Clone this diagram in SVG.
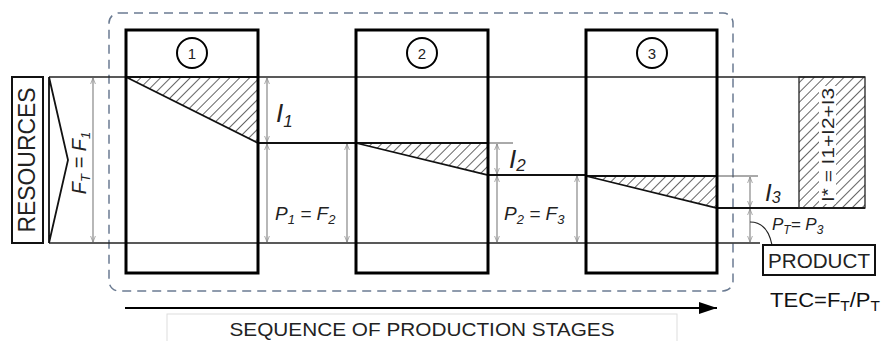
<svg xmlns="http://www.w3.org/2000/svg" width="882" height="341" viewBox="0 0 882 341">
<style>
.stage{fill:none;stroke:#000;stroke-width:3}
.flow{fill:none;stroke:#222;stroke-width:1.3}
.level{fill:none;stroke:#111;stroke-width:2}
.ext{fill:none;stroke:#555;stroke-width:1}
.dim{fill:none;stroke:#888;stroke-width:1.2;marker-start:url(#tick);marker-end:url(#tick)}
.hyp{fill:url(#hatch);stroke:#111;stroke-width:1.8}
.lbl{font-family:"Liberation Sans",Arial,sans-serif;fill:#222}
.it{font-style:italic}
.box{fill:#fff;stroke:#111;stroke-width:2}
</style>
<defs>
<pattern id="hatch" patternUnits="userSpaceOnUse" width="7" height="7" patternTransform="rotate(45)">
<line x1="0" y1="0" x2="0" y2="7" stroke="#111" stroke-width="1.3"/>
</pattern>
<marker id="tick" viewBox="0 0 10 10" refX="10" refY="5" markerWidth="6" markerHeight="6" orient="auto-start-reverse" markerUnits="userSpaceOnUse">
<path d="M0,1 L10,5 L0,9" fill="none" stroke="#888" stroke-width="1.2"/>
</marker>
<marker id="arr" viewBox="0 0 10 10" refX="10" refY="5" markerWidth="18" markerHeight="12" orient="auto" markerUnits="userSpaceOnUse" preserveAspectRatio="none">
<path d="M0,0 L10,5 L0,10 Z" fill="#000"/>
</marker>
</defs>

<rect x="109" y="13" width="624" height="278" rx="10" fill="none" stroke="#6b7b92" stroke-width="1.5" stroke-dasharray="9 6"/>

<g id="connectors">
<line class="flow" x1="49" y1="77" x2="865" y2="77"/>
<line class="flow" x1="49" y1="243" x2="760" y2="243"/>
<line class="level" x1="258" y1="143" x2="356" y2="143"/>
<line class="ext" x1="488" y1="143" x2="513" y2="143"/>
<line class="level" x1="488" y1="175" x2="586" y2="175"/>
<line class="ext" x1="717" y1="176" x2="758" y2="176"/>
<line class="level" x1="717" y1="208" x2="865" y2="208"/>
<line class="dim" x1="93" y1="78" x2="93" y2="242"/>
<line class="dim" x1="267" y1="78" x2="267" y2="142"/>
<line class="dim" x1="267" y1="144" x2="267" y2="242"/>
<line class="dim" x1="347" y1="144" x2="347" y2="242"/>
<line class="dim" x1="497" y1="144" x2="497" y2="174"/>
<line class="dim" x1="497" y1="176" x2="497" y2="242"/>
<line class="dim" x1="577" y1="176" x2="577" y2="242"/>
<line class="dim" x1="750" y1="177" x2="750" y2="207"/>
<line class="dim" x1="750" y1="209" x2="750" y2="242"/>
<path d="M750,222 C762,222 769,230 772,245" fill="none" stroke="#222" stroke-width="1.2"/>
<line x1="125" y1="308" x2="717" y2="308" stroke="#000" stroke-width="2" marker-end="url(#arr)"/>
</g>

<g id="resources">
<rect class="box" x="12" y="77" width="31" height="166"/>
<text class="lbl" transform="translate(35,160) rotate(-90)" text-anchor="middle" font-size="23" textLength="145" lengthAdjust="spacingAndGlyphs">RESOURCES</text>
</g>

<g id="input">
<path d="M49,77 L49,243 M49,77 L68,160 L49,243" fill="none" stroke="#111" stroke-width="1.8"/>
<text class="lbl it" transform="translate(86,163) rotate(-90)" text-anchor="middle" font-size="20">F<tspan font-size="13" dy="4">T</tspan><tspan dy="-4"> = F</tspan><tspan font-size="13" dy="4">1</tspan></text>
</g>

<g id="stage1">
<polygon class="hyp" points="126,77 258,77 258,143"/>
<rect class="stage" x="126" y="30" width="132" height="243"/>
<circle cx="192" cy="53" r="15" fill="#fff" stroke="#000" stroke-width="2"/>
<text class="lbl" x="192" y="59" text-anchor="middle" font-size="15">1</text>
</g>

<g id="stage2">
<polygon class="hyp" points="356,143 488,143 488,175"/>
<rect class="stage" x="356" y="30" width="132" height="243"/>
<circle cx="422" cy="53" r="15" fill="#fff" stroke="#000" stroke-width="2"/>
<text class="lbl" x="422" y="59" text-anchor="middle" font-size="15">2</text>
</g>

<g id="stage3">
<polygon class="hyp" points="586,176 717,176 717,208"/>
<rect class="stage" x="586" y="30" width="131" height="243"/>
<circle cx="652" cy="53" r="15" fill="#fff" stroke="#000" stroke-width="2"/>
<text class="lbl" x="652" y="59" text-anchor="middle" font-size="15">3</text>
</g>

<g id="labels">
<text class="lbl it" x="276" y="122" font-size="26">I<tspan font-size="17" dy="5">1</tspan></text>
<text class="lbl it" x="509" y="168" font-size="26">I<tspan font-size="17" dy="3">2</tspan></text>
<text class="lbl it" x="765" y="201" font-size="24">I<tspan font-size="16" dy="2">3</tspan></text>
<text class="lbl it" x="275" y="220" font-size="19">P<tspan font-size="13" dy="4">1</tspan><tspan dy="-4"> = F</tspan><tspan font-size="13" dy="4">2</tspan></text>
<text class="lbl it" x="504" y="220" font-size="19">P<tspan font-size="13" dy="4">2</tspan><tspan dy="-4"> = F</tspan><tspan font-size="13" dy="4">3</tspan></text>
<text class="lbl it" x="772" y="230" font-size="17" fill="#444">P<tspan font-size="12" dy="4">T</tspan><tspan dy="-4">= P</tspan><tspan font-size="12" dy="4">3</tspan></text>
</g>

<g id="losses">
<rect x="799" y="77" width="66" height="131" fill="url(#hatch)" stroke="#222" stroke-width="1.3"/>
<rect x="819" y="86" width="17" height="118" fill="#fff"/>
<text class="lbl" transform="translate(834,145) rotate(-90)" text-anchor="middle" font-size="17" textLength="114" lengthAdjust="spacingAndGlyphs">I* = I1+I2+I3</text>
</g>

<g id="product">
<rect class="box" x="763" y="245" width="112" height="30"/>
<text class="lbl" x="819" y="268" text-anchor="middle" font-size="20" textLength="102" lengthAdjust="spacingAndGlyphs">PRODUCT</text>
</g>

<g id="tec">
<text x="770" y="307" font-family="'Liberation Sans',Arial,sans-serif" font-size="20" fill="#111" textLength="110" lengthAdjust="spacingAndGlyphs">TEC=F<tspan font-size="14" dy="4">T</tspan><tspan dy="-4">/P</tspan><tspan font-size="14" dy="4">T</tspan></text>
</g>

<g id="sequence">
<rect x="167" y="314" width="510" height="40" fill="#fff" stroke="#ddd" stroke-width="1"/>
<text class="lbl" x="422" y="336" text-anchor="middle" font-size="18" textLength="385" lengthAdjust="spacingAndGlyphs">SEQUENCE OF PRODUCTION STAGES</text>
</g>
</svg>
